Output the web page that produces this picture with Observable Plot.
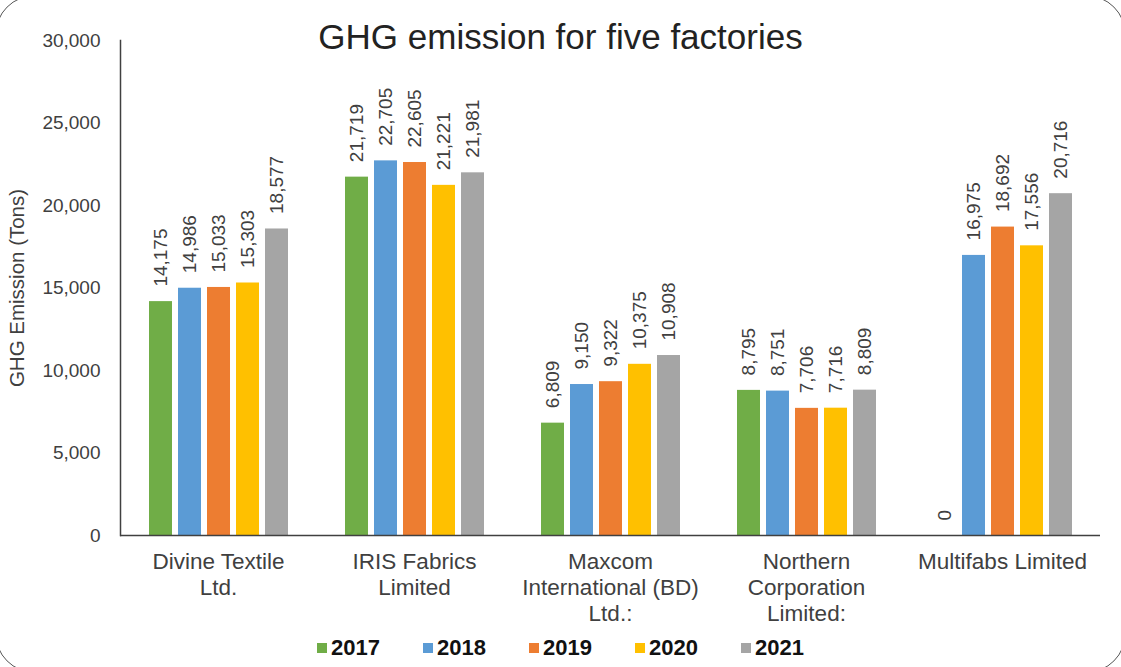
<!DOCTYPE html>
<html>
<head>
<meta charset="utf-8">
<script src="https://cdn.jsdelivr.net/npm/d3@7"></script>
<script src="https://cdn.jsdelivr.net/npm/@observablehq/plot@0.6"></script>
<style>
  html, body { margin: 0; padding: 0; background: #fff; }
  body { width: 1121px; height: 667px; position: relative; overflow: hidden; font-family: "Liberation Sans", Arial, sans-serif; }
  #border { position: absolute; left: -5px; top: -5px; width: 1131px; height: 678px; border: 1.5px solid #555; border-radius: 40px; box-sizing: border-box; pointer-events: none; }
  #title { position: absolute; left: 0; top: 17px; width: 1121px; text-align: center; font-size: 35px; line-height: 40px; color: #222; }
  #chart { position: absolute; left: 0; top: 0; }
  #legend { position: absolute; left: 0; top: 628px; width: 1121px; height: 40px; display: flex; justify-content: center; align-items: center; gap: 43px; font-weight: bold; font-size: 22px; color: #111; }
  .item { display: flex; align-items: center; gap: 4px; }
  .sw { width: 10px; height: 10px; display: inline-block; }
</style>
</head>
<body>
<div id="chart"></div>
<div id="title">GHG emission for five factories</div>
<div id="legend"></div>
<div id="border"></div>
<script>
const factories = ["Divine Textile Ltd.", "IRIS Fabrics Limited", "Maxcom International (BD) Ltd.:", "Northern Corporation Limited:", "Multifabs Limited"];
const factoryLabels = ["Divine Textile\nLtd.", "IRIS Fabrics\nLimited", "Maxcom\nInternational (BD)\nLtd.:", "Northern\nCorporation\nLimited:", "Multifabs Limited"];
const years = ["2017", "2018", "2019", "2020", "2021"];
const colors = ["#70AD47", "#5B9BD5", "#ED7D31", "#FFC000", "#A5A5A5"];
const v2017 = [14175, 21719, 6809, 8795, 0];
const v2018 = [14986, 22705, 9150, 8751, 16975];
const v2019 = [15033, 22605, 9322, 7706, 18692];
const v2020 = [15303, 21221, 10375, 7716, 17556];
const v2021 = [18577, 21981, 10908, 8809, 20716];
const yTicks = [0, 5000, 10000, 15000, 20000, 25000, 30000];

const series = [v2017, v2018, v2019, v2020, v2021];
const data = factories.flatMap((f, i) => years.map((y, j) => ({factory: f, year: y, value: series[j][i]})));
const fmt = d3.format(",");
const labelOf = new Map(factories.map((f, i) => [f, factoryLabels[i]]));

const chart = Plot.plot({
  width: 1121,
  height: 667,
  marginLeft: 120,
  marginRight: 21,
  marginTop: 40,
  marginBottom: 132,
  style: {fontFamily: "'Liberation Sans', Arial, sans-serif", fontSize: "19px", color: "#404040", background: "transparent", overflow: "visible"},
  fx: {domain: factories, padding: 0, label: null},
  x: {domain: years, paddingInner: 0.22, paddingOuter: 0.887, axis: null},
  y: {domain: [0, 30000]},
  color: {domain: years, range: colors},
  marks: [
    Plot.barY(data, {fx: "factory", x: "year", y: "value", fill: "year"}),
    Plot.text(data, {fx: "factory", x: "year", y: "value", text: d => fmt(d.value), rotate: -90, textAnchor: "start", dy: -15, fontSize: 19, fill: "#404040"}),
    Plot.ruleY([0], {stroke: "#404040", strokeWidth: 1.5}),
    Plot.frame({anchor: "left", facetAnchor: "left", stroke: "#404040", strokeWidth: 1.5}),
    Plot.axisY({ticks: yTicks, tickSize: 0, tickPadding: 20, tickFormat: fmt, label: null, fontSize: 19, fill: "#404040"}),
    Plot.axisY({ticks: [], tickSize: 0, label: "GHG Emission (Tons)", labelAnchor: "center", labelArrow: "none", labelOffset: 111, fontSize: 20.5, fill: "#404040"}),
    Plot.axisFx({anchor: "bottom", tickSize: 0, tickPadding: 15, label: null, lineHeight: 1.15, lineAnchor: "top", fontSize: 22.5, fill: "#404040", tickFormat: f => labelOf.get(f)})
  ]
});
document.getElementById("chart").appendChild(chart);

const legend = document.getElementById("legend");
years.forEach((y, i) => {
  const item = document.createElement("div");
  item.className = "item";
  const sw = document.createElement("span");
  sw.className = "sw";
  sw.style.background = colors[i];
  const t = document.createElement("span");
  t.textContent = y;
  item.appendChild(sw);
  item.appendChild(t);
  legend.appendChild(item);
});
</script>
</body>
</html>
